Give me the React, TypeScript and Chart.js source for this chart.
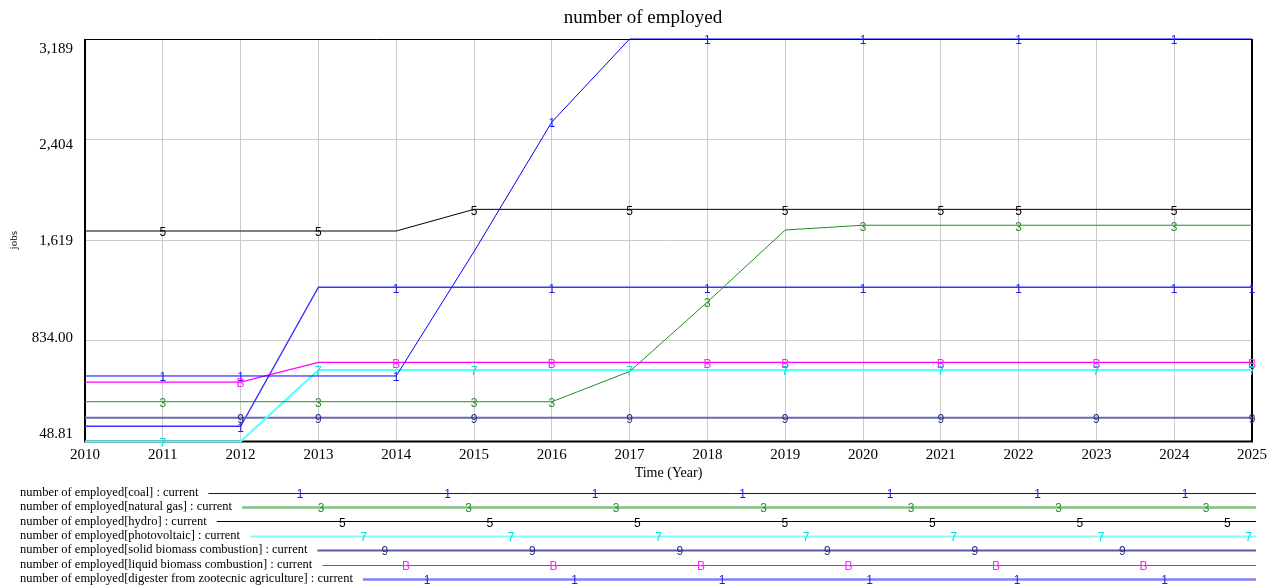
import React, { useEffect, useRef } from 'react';
import { Chart, registerables } from 'chart.js';

Chart.register(...registerables);

const years = ['2010', '2011', '2012', '2013', '2014', '2015', '2016', '2017', '2018', '2019', '2020', '2021', '2022', '2023', '2024', '2025'];

const coal = [560, 560, 560, 560, 560, 1530, 2541, 3189, 3189, 3189, 3189, 3189, 3189, 3189, 3189, 3189];
const naturalGas = [359, 359, 359, 359, 359, 359, 359, 595, 1137, 1699, 1736, 1736, 1736, 1736, 1736, 1736];
const hydro = [1691, 1691, 1691, 1691, 1691, 1860, 1860, 1860, 1860, 1860, 1860, 1860, 1860, 1860, 1860, 1860];
const photovoltaic = [48.81, 48.81, 48.81, 606, 606, 606, 606, 606, 606, 606, 606, 606, 606, 606, 606, 606];
const solidBiomass = [234, 234, 234, 234, 234, 234, 234, 234, 234, 234, 234, 234, 234, 234, 234, 234];
const liquidBiomass = [512, 512, 512, 666, 666, 666, 666, 666, 666, 666, 666, 666, 666, 666, 666, 666];
const digester = [168, 168, 168, 1252, 1252, 1252, 1252, 1252, 1252, 1252, 1252, 1252, 1252, 1252, 1252, 1252];

const yTickValues = [48.81, 833.86, 1618.9, 2403.95, 3189];
const yTickLabels = ['48.81', '834.00', '1,619', '2,404', '3,189'];

const chartTitle = 'number of employed';
const seriesNames = [
  'number of employed[coal] : current',
  'number of employed[natural gas] : current',
  'number of employed[hydro] : current',
  'number of employed[photovoltaic] : current',
  'number of employed[solid biomass combustion] : current',
  'number of employed[liquid biomass combustion] : current',
  'number of employed[digester from zootecnic agriculture] : current',
];
const markerChars = ['1', '3', '5', '7', '9', 'B', '1'];
const markerIndices = [
  [1, 2, 4, 6, 8, 10, 12, 14],
  [1, 3, 5, 6, 8, 10, 12, 14],
  [1, 3, 5, 7, 9, 11, 12, 14],
  [1, 3, 5, 7, 9, 11, 13, 15],
  [2, 3, 5, 7, 9, 11, 13, 15],
  [2, 4, 6, 8, 9, 11, 13, 15],
  [2, 4, 6, 8, 10, 12, 14, 15],
];

const seriesData = [coal, naturalGas, hydro, photovoltaic, solidBiomass, liquidBiomass, digester];
const lineColors = ['#0000ff', '#1f8f1f', '#000000', '#55ffff', '#6a6ab2', '#ff00ff', '#3535ff'];
const lineWidths = [1, 1, 1, 2, 2, 1.3, 1.4];
const markerColors = ['#1a1aff', '#2a8f2a', '#000000', '#00dede', '#2a2a88', '#ff22ff', '#2020e0'];
const legendColors = ['#0000ff', '#80c080', '#000000', '#80ffff', '#5a5aaa', '#ff00ff', '#8080ff'];
const legendWidths = [1, 2.5, 1.2, 2.2, 2.2, 1.2, 2.5];

const SERIF = '"Liberation Serif", "Times New Roman", "DejaVu Serif", serif';
const SANS = '"Liberation Sans", Arial, "DejaVu Sans", sans-serif';

const titlePlugin = {
  id: 'vensimTitle',
  afterDraw(chart: any) {
    const { ctx } = chart;
    ctx.save();
    ctx.font = '19px ' + SERIF;
    ctx.fillStyle = '#000';
    ctx.textAlign = 'center';
    ctx.textBaseline = 'middle';
    ctx.fillText(chartTitle, 643, 18);
    ctx.restore();
  },
};

const framePlugin = {
  id: 'frame',
  beforeDatasetsDraw(chart: any) {
    const { ctx, chartArea: a } = chart;
    ctx.save();
    ctx.strokeStyle = '#000';
    ctx.lineWidth = 1;
    ctx.beginPath();
    ctx.moveTo(a.left, Math.round(a.top) + 0.5);
    ctx.lineTo(a.right, Math.round(a.top) + 0.5);
    ctx.stroke();
    ctx.lineWidth = 2;
    ctx.beginPath();
    ctx.moveTo(a.left, a.top);
    ctx.lineTo(a.left, a.bottom);
    ctx.lineTo(a.right, a.bottom);
    ctx.lineTo(a.right, a.top);
    ctx.stroke();
    ctx.restore();
  },
};

const markerPlugin = {
  id: 'markers',
  afterDatasetsDraw(chart: any) {
    const { ctx } = chart;
    ctx.save();
    ctx.font = '12px ' + SANS;
    ctx.textAlign = 'center';
    ctx.textBaseline = 'middle';
    chart.data.datasets.forEach((ds: any, di: number) => {
      const meta = chart.getDatasetMeta(di);
      ctx.fillStyle = markerColors[di];
      markerIndices[di].forEach((idx) => {
        const p = meta.data[idx];
        if (p) ctx.fillText(markerChars[di], p.x, p.y + 2);
      });
    });
    ctx.restore();
  },
};

const yLabelPlugin = {
  id: 'ylabels',
  afterDraw(chart: any) {
    const { ctx, chartArea: a } = chart;
    const scale = chart.scales.y;
    const h = a.bottom - a.top;
    ctx.save();
    ctx.font = '15px ' + SERIF;
    ctx.fillStyle = '#000';
    ctx.textAlign = 'right';
    ctx.textBaseline = 'middle';
    yTickValues.forEach((v, i) => {
      const py = scale.getPixelForValue(v);
      const ly = a.top + 10 + (py - a.top) * ((h - 17.5) / h);
      ctx.fillText(yTickLabels[i], a.left - 12, ly);
    });
    ctx.restore();
  },
};

const legendPlugin = {
  id: 'vensimLegend',
  afterDraw(chart: any) {
    const { ctx } = chart;
    const startY = 492.5;
    const rowH = 14.4;
    const lineEnd = 1256;
    ctx.save();
    seriesNames.forEach((name, i) => {
      const y = startY + i * rowH;
      ctx.font = '12.5px ' + SERIF;
      ctx.fillStyle = '#000';
      ctx.textAlign = 'left';
      ctx.textBaseline = 'middle';
      ctx.fillText(name, 20, y);
      const w = ctx.measureText(name).width;
      ctx.strokeStyle = legendColors[i];
      ctx.lineWidth = legendWidths[i];
      ctx.beginPath();
      ctx.moveTo(20 + w + 10, Math.round(y) + 0.5);
      ctx.lineTo(lineEnd, Math.round(y) + 0.5);
      ctx.stroke();
      ctx.font = '12px ' + SANS;
      ctx.textAlign = 'center';
      ctx.fillStyle = markerColors[i];
      for (let x = 300 + i * 21.2; x < lineEnd; x += 147.5) {
        ctx.fillText(markerChars[i], x, y + 2);
      }
    });
    ctx.restore();
  },
};

export default function App() {
  const ref = useRef<HTMLCanvasElement | null>(null);
  useEffect(() => {
    if (!ref.current) return;
    const chart = new Chart(ref.current, {
      type: 'line',
      data: {
        labels: years,
        datasets: seriesData.map((d, i) => ({
          label: seriesNames[i],
          data: d,
          borderColor: lineColors[i],
          backgroundColor: lineColors[i],
          borderWidth: lineWidths[i],
          pointRadius: 0,
          tension: 0,
          fill: false,
          clip: false as any,
        })),
      },
      options: {
        animation: false,
        responsive: false,
        devicePixelRatio: 1,
        layout: { padding: { left: 0, right: 24, top: 39, bottom: 106 } },
        plugins: {
          legend: { display: false },
          tooltip: { enabled: false },
          title: { display: false },
        },
        scales: {
          x: {
            type: 'category',
            offset: false,
            grid: { color: '#cacaca', lineWidth: 1, drawTicks: false },
            border: { display: false },
            ticks: {
              color: '#000',
              font: { family: SERIF, size: 15 },
              padding: 4.5,
              maxRotation: 0,
              autoSkip: false,
            },
            title: {
              display: true,
              text: 'Time (Year)',
              color: '#000',
              font: { family: SERIF, size: 14 },
              padding: { top: 0, bottom: 0.6 },
            },
            afterFit(scale: any) {
              scale.height = 40.5;
            },
          },
          y: {
            type: 'linear',
            min: 48.81,
            max: 3189,
            grid: { color: '#cacaca', lineWidth: 1, drawTicks: false },
            border: { display: false },
            ticks: { display: false },
            afterBuildTicks(scale: any) {
              scale.ticks = yTickValues.map((v) => ({ value: v }));
            },
            title: {
              display: true,
              text: 'jobs',
              color: '#000',
              font: { family: SERIF, size: 11 },
              padding: { top: 7.4, bottom: 0 },
            },
            afterFit(scale: any) {
              scale.width = 85;
            },
          },
        },
      },
      plugins: [framePlugin, markerPlugin, yLabelPlugin, legendPlugin, titlePlugin],
    });
    return () => chart.destroy();
  }, []);
  return (
    <div style={{ position: 'absolute', left: 0, top: 0, width: 1276, height: 588, background: '#fff' }}>
      <canvas ref={ref} width={1276} height={588} style={{ width: 1276, height: 588, display: 'block' }} />
    </div>
  );
}
